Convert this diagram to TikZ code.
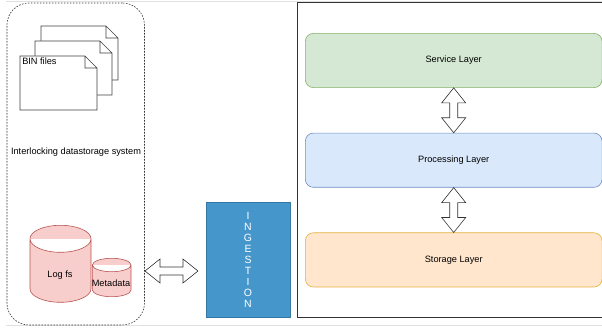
\documentclass[tikz,border=0pt]{standalone}
\usepackage{fontspec}
\setmainfont{Liberation Sans}
\usepackage{tikz}
\usetikzlibrary{calc}

\definecolor{layergreen}{HTML}{D5E8D4}
\definecolor{linegreen}{HTML}{82B366}
\definecolor{layerblue}{HTML}{DAE8FC}
\definecolor{lineblue}{HTML}{6C8EBF}
\definecolor{layerorange}{HTML}{FFE6CC}
\definecolor{lineorange}{HTML}{D79B00}
\definecolor{dbred}{HTML}{F8CECC}
\definecolor{linered}{HTML}{B85450}
\definecolor{ingestblue}{HTML}{4596CB}

\begin{document}
\begin{tikzpicture}[x=1pt,y=-1pt,node distance=99.7pt,line width=0.6pt,
	every node/.style={font=\fontsize{9.2}{11}\selectfont},
	layer node/.style={rectangle,rounded corners=8pt,draw,inner sep=0pt,
		minimum width=296.7pt,minimum height=54.2pt},
	db shape/.style={draw=linered,fill=dbred},
	sheet/.style={draw=black!75,fill=white},
	block link/.style={draw=black!80,fill=white,to path={
		-- ($(\tikztostart)!15pt!(\tikztotarget)!12pt!90:(\tikztotarget)$)
		-- ($(\tikztostart)!15pt!(\tikztotarget)!4pt!90:(\tikztotarget)$)
		-- ($(\tikztotarget)!15pt!(\tikztostart)!-4pt!90:(\tikztostart)$)
		-- ($(\tikztotarget)!15pt!(\tikztostart)!-12pt!90:(\tikztostart)$)
		-- (\tikztotarget)
		-- ($(\tikztotarget)!15pt!(\tikztostart)!12pt!90:(\tikztostart)$)
		-- ($(\tikztotarget)!15pt!(\tikztostart)!4pt!90:(\tikztostart)$)
		-- ($(\tikztostart)!15pt!(\tikztotarget)!-4pt!90:(\tikztotarget)$)
		-- ($(\tikztostart)!15pt!(\tikztotarget)!-12pt!90:(\tikztotarget)$)
		-- cycle}}]
	
	\useasboundingbox (0,0) rectangle (602,328);
	\draw[black!12] (6,1) -- (602,1) (6,325.5) -- (602,325.5);
	
	\node[draw=black!80,dash pattern=on 1.6pt off 1.4pt,rounded corners=22pt,
		minimum width=137.5pt,minimum height=322pt,inner sep=0pt] (datastore) at (75.7,164) {};
	\node (title) at (76,152) {Interlocking datastorage system};
	
	\foreach \dx/\dy in {41/26,35/41,20/56}
		\draw[sheet] (\dx,\dy) -- ++(65,0) -- ++(12,12) -- ++(0,42) -- ++(-77,0) -- cycle
			(\dx+65,\dy) -- ++(0,12) -- ++(12,0);
	\node[anchor=north west,inner sep=0pt] (bin) at (22,58) {BIN files};
	
	% x, top, half width, curve, bottom
	\foreach \cx/\ctop/\rx/\ry/\cbot in {60.5/225.3/30.5/13.5/302.3,111.7/258.3/19.3/6.7/296.7}
		\draw[db shape] (\cx-\rx,\ctop+\ry)
			arc[start angle=180,end angle=0,x radius=\rx pt,y radius=\ry pt]
			-- (\cx+\rx,\cbot-\ry)
			arc[start angle=0,end angle=-180,x radius=\rx pt,y radius=\ry pt]
			-- cycle
			(\cx-\rx,\ctop+\ry)
			arc[start angle=180,end angle=360,x radius=\rx pt,y radius=\ry pt];
	\node (logfs) at (60,275) {Log fs};
	\node (meta) at (111,283) {Metadata};
	
	\node[draw=ingestblue!80!black,fill=ingestblue,text=white,align=center,inner sep=0pt,
		font=\fontsize{10.5}{11}\selectfont,
		minimum width=84pt,minimum height=115pt] (ingest) at (248,259.5)
		{I\\N\\G\\E\\S\\T\\I\\O\\N};
	
	\coordinate (linkL) at (145,271);
	\coordinate (linkR) at (198,271);
	\path[block link] (linkL) to (linkR);
	
	\node[draw=black!80,inner sep=0pt,minimum width=320pt,minimum height=314.6pt] (frame) at (457.4,160) {};
	
	\node[layer node,draw=linegreen,fill=layergreen] (service) at (453.7,60.5) {Service Layer};
	\node[layer node,draw=lineblue,fill=layerblue] (process) [below of=service] {Processing Layer};
	\node[layer node,draw=lineorange!70!layerorange,fill=layerorange] (storage) [below of=process] {Storage Layer};
	
	\path[block link] (service.south) to (process.north);
	\path[block link] (process.south) to (storage.north);
\end{tikzpicture}
\end{document}
